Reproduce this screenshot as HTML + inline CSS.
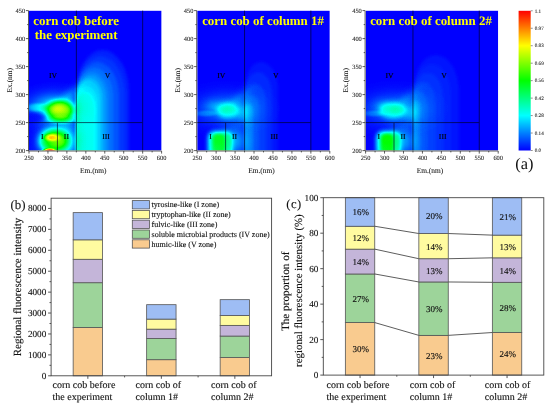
<!DOCTYPE html><html><head><meta charset="utf-8"><style>html,body{margin:0;padding:0;background:#fff;width:550px;height:407px;overflow:hidden}svg{display:block;filter:blur(0.35px)}</style></head><body>
<svg width="550" height="407" viewBox="0 0 550 407" text-rendering="geometricPrecision" font-family='"Liberation Serif", serif'>
<defs>
<radialGradient id="g"><stop offset="0.000" stop-color="#fff" stop-opacity="1.0000"/><stop offset="0.083" stop-color="#fff" stop-opacity="0.9692"/><stop offset="0.167" stop-color="#fff" stop-opacity="0.8825"/><stop offset="0.250" stop-color="#fff" stop-opacity="0.7548"/><stop offset="0.333" stop-color="#fff" stop-opacity="0.6065"/><stop offset="0.417" stop-color="#fff" stop-opacity="0.4578"/><stop offset="0.500" stop-color="#fff" stop-opacity="0.3247"/><stop offset="0.583" stop-color="#fff" stop-opacity="0.2163"/><stop offset="0.667" stop-color="#fff" stop-opacity="0.1353"/><stop offset="0.750" stop-color="#fff" stop-opacity="0.0796"/><stop offset="0.833" stop-color="#fff" stop-opacity="0.0439"/><stop offset="0.917" stop-color="#fff" stop-opacity="0.0228"/><stop offset="1.000" stop-color="#fff" stop-opacity="0.0000"/></radialGradient>
<radialGradient id="f"><stop offset="0.000" stop-color="#fff" stop-opacity="1.0000"/><stop offset="0.071" stop-color="#fff" stop-opacity="0.9998"/><stop offset="0.143" stop-color="#fff" stop-opacity="0.9967"/><stop offset="0.214" stop-color="#fff" stop-opacity="0.9833"/><stop offset="0.286" stop-color="#fff" stop-opacity="0.9481"/><stop offset="0.357" stop-color="#fff" stop-opacity="0.8780"/><stop offset="0.429" stop-color="#fff" stop-opacity="0.7635"/><stop offset="0.500" stop-color="#fff" stop-opacity="0.6065"/><stop offset="0.571" stop-color="#fff" stop-opacity="0.4261"/><stop offset="0.643" stop-color="#fff" stop-opacity="0.2550"/><stop offset="0.714" stop-color="#fff" stop-opacity="0.1246"/><stop offset="0.786" stop-color="#fff" stop-opacity="0.0474"/><stop offset="0.857" stop-color="#fff" stop-opacity="0.0133"/><stop offset="0.929" stop-color="#fff" stop-opacity="0.0026"/><stop offset="1.000" stop-color="#fff" stop-opacity="0.0000"/></radialGradient>
<radialGradient id="gk"><stop offset="0.000" stop-color="#000" stop-opacity="1.0000"/><stop offset="0.083" stop-color="#000" stop-opacity="0.9692"/><stop offset="0.167" stop-color="#000" stop-opacity="0.8825"/><stop offset="0.250" stop-color="#000" stop-opacity="0.7548"/><stop offset="0.333" stop-color="#000" stop-opacity="0.6065"/><stop offset="0.417" stop-color="#000" stop-opacity="0.4578"/><stop offset="0.500" stop-color="#000" stop-opacity="0.3247"/><stop offset="0.583" stop-color="#000" stop-opacity="0.2163"/><stop offset="0.667" stop-color="#000" stop-opacity="0.1353"/><stop offset="0.750" stop-color="#000" stop-opacity="0.0796"/><stop offset="0.833" stop-color="#000" stop-opacity="0.0439"/><stop offset="0.917" stop-color="#000" stop-opacity="0.0228"/><stop offset="1.000" stop-color="#000" stop-opacity="0.0000"/></radialGradient>
<radialGradient id="fk"><stop offset="0.000" stop-color="#000" stop-opacity="1.0000"/><stop offset="0.071" stop-color="#000" stop-opacity="0.9998"/><stop offset="0.143" stop-color="#000" stop-opacity="0.9967"/><stop offset="0.214" stop-color="#000" stop-opacity="0.9833"/><stop offset="0.286" stop-color="#000" stop-opacity="0.9481"/><stop offset="0.357" stop-color="#000" stop-opacity="0.8780"/><stop offset="0.429" stop-color="#000" stop-opacity="0.7635"/><stop offset="0.500" stop-color="#000" stop-opacity="0.6065"/><stop offset="0.571" stop-color="#000" stop-opacity="0.4261"/><stop offset="0.643" stop-color="#000" stop-opacity="0.2550"/><stop offset="0.714" stop-color="#000" stop-opacity="0.1246"/><stop offset="0.786" stop-color="#000" stop-opacity="0.0474"/><stop offset="0.857" stop-color="#000" stop-opacity="0.0133"/><stop offset="0.929" stop-color="#000" stop-opacity="0.0026"/><stop offset="1.000" stop-color="#000" stop-opacity="0.0000"/></radialGradient>
<radialGradient id="e"><stop offset="0" stop-color="#fff" stop-opacity="1"/><stop offset="0.650" stop-color="#fff" stop-opacity="1.0000"/><stop offset="0.694" stop-color="#fff" stop-opacity="0.9570"/><stop offset="0.738" stop-color="#fff" stop-opacity="0.8438"/><stop offset="0.781" stop-color="#fff" stop-opacity="0.6836"/><stop offset="0.825" stop-color="#fff" stop-opacity="0.5000"/><stop offset="0.869" stop-color="#fff" stop-opacity="0.3164"/><stop offset="0.912" stop-color="#fff" stop-opacity="0.1562"/><stop offset="0.956" stop-color="#fff" stop-opacity="0.0430"/><stop offset="1.000" stop-color="#fff" stop-opacity="0.0000"/></radialGradient>
<radialGradient id="ek"><stop offset="0" stop-color="#000" stop-opacity="1"/><stop offset="0.650" stop-color="#000" stop-opacity="1.0000"/><stop offset="0.694" stop-color="#000" stop-opacity="0.9570"/><stop offset="0.738" stop-color="#000" stop-opacity="0.8438"/><stop offset="0.781" stop-color="#000" stop-opacity="0.6836"/><stop offset="0.825" stop-color="#000" stop-opacity="0.5000"/><stop offset="0.869" stop-color="#000" stop-opacity="0.3164"/><stop offset="0.912" stop-color="#000" stop-opacity="0.1562"/><stop offset="0.956" stop-color="#000" stop-opacity="0.0430"/><stop offset="1.000" stop-color="#000" stop-opacity="0.0000"/></radialGradient>
<filter id="b0_5" x="-50%" y="-50%" width="200%" height="200%"><feGaussianBlur stdDeviation="0.5"/></filter>
<filter id="b1" x="-50%" y="-50%" width="200%" height="200%"><feGaussianBlur stdDeviation="1"/></filter>
<filter id="b1_5" x="-50%" y="-50%" width="200%" height="200%"><feGaussianBlur stdDeviation="1.5"/></filter>
<filter id="b2" x="-50%" y="-50%" width="200%" height="200%"><feGaussianBlur stdDeviation="2"/></filter>
<filter id="b2_5" x="-50%" y="-50%" width="200%" height="200%"><feGaussianBlur stdDeviation="2.5"/></filter>
<filter id="b3" x="-50%" y="-50%" width="200%" height="200%"><feGaussianBlur stdDeviation="3"/></filter>
<filter id="b4" x="-50%" y="-50%" width="200%" height="200%"><feGaussianBlur stdDeviation="4"/></filter>
<filter id="b5" x="-50%" y="-50%" width="200%" height="200%"><feGaussianBlur stdDeviation="5"/></filter>
<filter id="b6" x="-50%" y="-50%" width="200%" height="200%"><feGaussianBlur stdDeviation="6"/></filter>
<filter id="cm" x="0" y="0" width="1" height="1" color-interpolation-filters="sRGB"><feComponentTransfer><feFuncR type="table" tableValues="0 0 0 1 1"/><feFuncG type="table" tableValues="0 1 1 1 0"/><feFuncB type="table" tableValues="1 1 0 0 0"/></feComponentTransfer></filter>
<linearGradient id="cb" x1="0" y1="1" x2="0" y2="0"><stop offset="0" stop-color="#00f"/><stop offset="0.25" stop-color="#0ff"/><stop offset="0.5" stop-color="#0f0"/><stop offset="0.75" stop-color="#ff0"/><stop offset="1" stop-color="#f00"/></linearGradient>
<clipPath id="cp0"><rect x="29.00" y="10.60" width="132.60" height="140.00"/></clipPath>
<clipPath id="cp1"><rect x="197.20" y="10.60" width="132.60" height="140.00"/></clipPath>
<clipPath id="cp2"><rect x="365.60" y="10.60" width="132.60" height="140.00"/></clipPath>
</defs>
<g clip-path="url(#cp0)"><g filter="url(#cm)">
<rect x="29.00" y="10.60" width="132.60" height="140.00" fill="#000"/>
<path d="M76.0 160.0 L76.0 92.4 A26.50 42.40 0 0 1 129.0 92.4 L129.0 160.0 Z" fill="#fff" fill-opacity="0.030" filter="url(#b1_5)"/>
<path d="M76.0 160.0 L76.0 95.2 A24.50 39.20 0 0 1 125.0 95.2 L125.0 160.0 Z" fill="#fff" fill-opacity="0.021" filter="url(#b1_5)"/>
<path d="M76.0 160.0 L76.0 96.4 A21.50 34.40 0 0 1 119.0 96.4 L119.0 160.0 Z" fill="#fff" fill-opacity="0.032" filter="url(#b1_5)"/>
<path d="M76.0 160.0 L76.0 97.6 A18.50 29.60 0 0 1 113.0 97.6 L113.0 160.0 Z" fill="#fff" fill-opacity="0.033" filter="url(#b1_5)"/>
<path d="M76.0 160.0 L76.0 98.6 A16.00 25.60 0 0 1 108.0 98.6 L108.0 160.0 Z" fill="#fff" fill-opacity="0.034" filter="url(#b1_5)"/>
<path d="M76.0 160.0 L76.0 99.4 A14.00 22.40 0 0 1 104.0 99.4 L104.0 160.0 Z" fill="#fff" fill-opacity="0.035" filter="url(#b1_5)"/>
<path d="M76.0 160.0 L76.0 100.0 A12.50 20.00 0 0 1 101.0 100.0 L101.0 160.0 Z" fill="#fff" fill-opacity="0.036" filter="url(#b1_5)"/>
<path d="M76.0 160.0 L76.0 103.6 A11.00 17.60 0 0 1 98.0 103.6 L98.0 160.0 Z" fill="#fff" fill-opacity="0.037" filter="url(#b1_5)"/>
<path d="M76.0 160.0 L76.0 107.2 A9.50 15.20 0 0 1 95.0 107.2 L95.0 160.0 Z" fill="#fff" fill-opacity="0.039" filter="url(#b1_5)"/>
<ellipse cx="70.00" cy="95.00" rx="30.00" ry="12.00" fill="url(#g)" fill-opacity="0.080" transform="rotate(-40.0 70.00 95.00)"/>
<ellipse cx="69.00" cy="112.00" rx="15.00" ry="24.00" fill="url(#g)" fill-opacity="0.130"/>
<ellipse cx="54.00" cy="108.00" rx="45.00" ry="27.00" fill="url(#g)" fill-opacity="0.250"/>
<ellipse cx="60.00" cy="110.50" rx="23.00" ry="17.00" fill="url(#f)" fill-opacity="0.500"/>
<ellipse cx="58.00" cy="109.00" rx="15.00" ry="10.50" fill="url(#g)" fill-opacity="0.220"/>
<ellipse cx="61.00" cy="119.50" rx="26.00" ry="7.00" fill="url(#f)" fill-opacity="0.160"/>
<ellipse cx="38.00" cy="107.50" rx="20.00" ry="7.00" fill="url(#f)" fill-opacity="0.120"/>
<ellipse cx="34.00" cy="118.00" rx="18.00" ry="9.00" fill="url(#fk)" fill-opacity="0.850"/>
<ellipse cx="56.00" cy="141.00" rx="39.00" ry="36.00" fill="url(#g)" fill-opacity="0.200"/>
<ellipse cx="64.00" cy="141.00" rx="24.00" ry="30.00" fill="url(#g)" fill-opacity="0.220"/>
<ellipse cx="53.00" cy="140.50" rx="25.00" ry="19.00" fill="url(#f)" fill-opacity="0.420"/>
<ellipse cx="52.00" cy="137.50" rx="13.00" ry="6.40" fill="url(#f)" fill-opacity="0.450"/>
<ellipse cx="50.20" cy="137.50" rx="7.80" ry="4.80" fill="url(#g)" fill-opacity="0.300"/>
<ellipse cx="49.50" cy="151.20" rx="11.00" ry="4.80" fill="url(#f)" fill-opacity="0.920"/>
<ellipse cx="29.00" cy="138.00" rx="24.00" ry="42.00" fill="url(#gk)" fill-opacity="0.600"/>
</g></g>
<g stroke="#000018" stroke-width="0.9" fill="none" opacity="0.7">
<line x1="29.00" y1="122.60" x2="142.66" y2="122.60"/>
<line x1="57.41" y1="122.60" x2="57.41" y2="150.60"/>
<line x1="76.36" y1="10.60" x2="76.36" y2="150.60"/>
<line x1="142.66" y1="10.60" x2="142.66" y2="150.60"/>
</g>
<g font-size="7.7" fill="#000" stroke="#000" stroke-width="0.15" text-anchor="middle">
<text x="53.00" y="77.80">IV</text>
<text x="107.50" y="77.80">V</text>
<text x="42.30" y="138.60">I</text>
<text x="66.40" y="138.60">II</text>
<text x="106.10" y="138.60">III</text>
</g>
<g font-size="12.9" font-weight="bold" fill="#ff0" text-anchor="middle">
<text x="76.10" y="24.70">corn cob before</text>
<text x="76.10" y="38.90">the experiment</text>
</g>
<g stroke="#333" stroke-width="0.8" fill="none">
<line x1="28.50" y1="10.60" x2="28.50" y2="151.00"/>
<line x1="28.50" y1="151.00" x2="161.60" y2="151.00"/>
<line x1="25.90" y1="150.60" x2="28.50" y2="150.60"/>
<line x1="27.10" y1="136.60" x2="28.50" y2="136.60"/>
<line x1="25.90" y1="122.60" x2="28.50" y2="122.60"/>
<line x1="27.10" y1="108.60" x2="28.50" y2="108.60"/>
<line x1="25.90" y1="94.60" x2="28.50" y2="94.60"/>
<line x1="27.10" y1="80.60" x2="28.50" y2="80.60"/>
<line x1="25.90" y1="66.60" x2="28.50" y2="66.60"/>
<line x1="27.10" y1="52.60" x2="28.50" y2="52.60"/>
<line x1="25.90" y1="38.60" x2="28.50" y2="38.60"/>
<line x1="27.10" y1="24.60" x2="28.50" y2="24.60"/>
<line x1="25.90" y1="10.60" x2="28.50" y2="10.60"/>
<line x1="29.00" y1="151.00" x2="29.00" y2="153.60"/>
<line x1="38.47" y1="151.00" x2="38.47" y2="152.40"/>
<line x1="47.94" y1="151.00" x2="47.94" y2="153.60"/>
<line x1="57.41" y1="151.00" x2="57.41" y2="152.40"/>
<line x1="66.89" y1="151.00" x2="66.89" y2="153.60"/>
<line x1="76.36" y1="151.00" x2="76.36" y2="152.40"/>
<line x1="85.83" y1="151.00" x2="85.83" y2="153.60"/>
<line x1="95.30" y1="151.00" x2="95.30" y2="152.40"/>
<line x1="104.77" y1="151.00" x2="104.77" y2="153.60"/>
<line x1="114.24" y1="151.00" x2="114.24" y2="152.40"/>
<line x1="123.71" y1="151.00" x2="123.71" y2="153.60"/>
<line x1="133.19" y1="151.00" x2="133.19" y2="152.40"/>
<line x1="142.66" y1="151.00" x2="142.66" y2="153.60"/>
<line x1="152.13" y1="151.00" x2="152.13" y2="152.40"/>
<line x1="161.60" y1="151.00" x2="161.60" y2="153.60"/>
</g>
<g font-size="6.4" fill="#222" stroke="#222" stroke-width="0.08">
<text x="25.20" y="152.60" text-anchor="end">200</text>
<text x="25.20" y="124.60" text-anchor="end">250</text>
<text x="25.20" y="96.60" text-anchor="end">300</text>
<text x="25.20" y="68.60" text-anchor="end">350</text>
<text x="25.20" y="40.60" text-anchor="end">400</text>
<text x="25.20" y="12.60" text-anchor="end">450</text>
<text x="29.00" y="160.30" text-anchor="middle">250</text>
<text x="47.94" y="160.30" text-anchor="middle">300</text>
<text x="66.89" y="160.30" text-anchor="middle">350</text>
<text x="85.83" y="160.30" text-anchor="middle">400</text>
<text x="104.77" y="160.30" text-anchor="middle">450</text>
<text x="123.71" y="160.30" text-anchor="middle">500</text>
<text x="142.66" y="160.30" text-anchor="middle">550</text>
<text x="161.60" y="160.30" text-anchor="middle">600</text>
</g>
<text x="93.30" y="172.5" font-size="7.4" fill="#111" stroke="#111" stroke-width="0.06" text-anchor="middle">Em.(nm)</text>
<text transform="translate(11.60 80.2) rotate(-90)" font-size="7.4" fill="#111" stroke="#111" stroke-width="0.06" text-anchor="middle">Ex.(nm)</text>
<g clip-path="url(#cp1)"><g filter="url(#cm)">
<rect x="197.20" y="10.60" width="132.60" height="140.00" fill="#000"/>
<path d="M244.5 160.0 L244.5 88.8 A16.75 26.80 0 0 1 278.0 88.8 L278.0 160.0 Z" fill="#fff" fill-opacity="0.020" filter="url(#b1_5)"/>
<path d="M244.5 160.0 L244.5 94.0 A13.75 22.00 0 0 1 272.0 94.0 L272.0 160.0 Z" fill="#fff" fill-opacity="0.020" filter="url(#b1_5)"/>
<path d="M244.5 160.0 L244.5 101.2 A10.75 17.20 0 0 1 266.0 101.2 L266.0 160.0 Z" fill="#fff" fill-opacity="0.021" filter="url(#b1_5)"/>
<path d="M244.5 160.0 L244.5 106.6 A7.25 11.60 0 0 1 259.0 106.6 L259.0 160.0 Z" fill="#fff" fill-opacity="0.021" filter="url(#b1_5)"/>
<path d="M244.5 160.0 L244.5 110.8 A4.25 6.80 0 0 1 253.0 110.8 L253.0 160.0 Z" fill="#fff" fill-opacity="0.033" filter="url(#b1_5)"/>
<ellipse cx="242.00" cy="113.00" rx="15.00" ry="21.00" fill="url(#g)" fill-opacity="0.100"/>
<ellipse cx="226.00" cy="109.00" rx="57.00" ry="30.00" fill="url(#g)" fill-opacity="0.130"/>
<ellipse cx="238.00" cy="99.00" rx="30.00" ry="12.00" fill="url(#g)" fill-opacity="0.050" transform="rotate(-40.0 238.00 99.00)"/>
<ellipse cx="227.50" cy="110.50" rx="11.00" ry="8.00" fill="#fff" fill-opacity="0.150" filter="url(#b2_5)"/>
<ellipse cx="227.00" cy="110.00" rx="15.00" ry="10.50" fill="url(#g)" fill-opacity="0.060"/>
<ellipse cx="206.00" cy="113.50" rx="18.00" ry="5.00" fill="url(#f)" fill-opacity="0.060"/>
<ellipse cx="214.00" cy="106.00" rx="18.00" ry="12.00" fill="url(#g)" fill-opacity="0.060"/>
<rect x="208.00" y="131.50" width="24.00" height="25.00" rx="6.00" fill="#fff" fill-opacity="0.280" filter="url(#b2)"/>
<rect x="212.50" y="133.50" width="12.50" height="20.00" rx="5.00" fill="#fff" fill-opacity="0.200" filter="url(#b1_5)"/>
<ellipse cx="216.00" cy="140.00" rx="12.00" ry="15.00" fill="url(#g)" fill-opacity="0.060"/>
<ellipse cx="234.00" cy="141.00" rx="27.00" ry="30.00" fill="url(#g)" fill-opacity="0.160"/>
</g></g>
<g stroke="#000018" stroke-width="0.9" fill="none" opacity="0.7">
<line x1="197.20" y1="122.60" x2="310.86" y2="122.60"/>
<line x1="225.61" y1="122.60" x2="225.61" y2="150.60"/>
<line x1="244.56" y1="10.60" x2="244.56" y2="150.60"/>
<line x1="310.86" y1="10.60" x2="310.86" y2="150.60"/>
</g>
<g font-size="7.7" fill="#000" stroke="#000" stroke-width="0.15" text-anchor="middle">
<text x="221.20" y="77.80">IV</text>
<text x="275.70" y="77.80">V</text>
<text x="210.50" y="138.60">I</text>
<text x="234.60" y="138.60">II</text>
<text x="274.30" y="138.60">III</text>
</g>
<g font-size="12.9" font-weight="bold" fill="#ff0" text-anchor="middle">
<text x="263.00" y="24.70">corn cob of column 1#</text>
</g>
<g stroke="#333" stroke-width="0.8" fill="none">
<line x1="196.70" y1="10.60" x2="196.70" y2="151.00"/>
<line x1="196.70" y1="151.00" x2="329.80" y2="151.00"/>
<line x1="194.10" y1="150.60" x2="196.70" y2="150.60"/>
<line x1="195.30" y1="136.60" x2="196.70" y2="136.60"/>
<line x1="194.10" y1="122.60" x2="196.70" y2="122.60"/>
<line x1="195.30" y1="108.60" x2="196.70" y2="108.60"/>
<line x1="194.10" y1="94.60" x2="196.70" y2="94.60"/>
<line x1="195.30" y1="80.60" x2="196.70" y2="80.60"/>
<line x1="194.10" y1="66.60" x2="196.70" y2="66.60"/>
<line x1="195.30" y1="52.60" x2="196.70" y2="52.60"/>
<line x1="194.10" y1="38.60" x2="196.70" y2="38.60"/>
<line x1="195.30" y1="24.60" x2="196.70" y2="24.60"/>
<line x1="194.10" y1="10.60" x2="196.70" y2="10.60"/>
<line x1="197.20" y1="151.00" x2="197.20" y2="153.60"/>
<line x1="206.67" y1="151.00" x2="206.67" y2="152.40"/>
<line x1="216.14" y1="151.00" x2="216.14" y2="153.60"/>
<line x1="225.61" y1="151.00" x2="225.61" y2="152.40"/>
<line x1="235.09" y1="151.00" x2="235.09" y2="153.60"/>
<line x1="244.56" y1="151.00" x2="244.56" y2="152.40"/>
<line x1="254.03" y1="151.00" x2="254.03" y2="153.60"/>
<line x1="263.50" y1="151.00" x2="263.50" y2="152.40"/>
<line x1="272.97" y1="151.00" x2="272.97" y2="153.60"/>
<line x1="282.44" y1="151.00" x2="282.44" y2="152.40"/>
<line x1="291.91" y1="151.00" x2="291.91" y2="153.60"/>
<line x1="301.39" y1="151.00" x2="301.39" y2="152.40"/>
<line x1="310.86" y1="151.00" x2="310.86" y2="153.60"/>
<line x1="320.33" y1="151.00" x2="320.33" y2="152.40"/>
<line x1="329.80" y1="151.00" x2="329.80" y2="153.60"/>
</g>
<g font-size="6.4" fill="#222" stroke="#222" stroke-width="0.08">
<text x="193.40" y="152.60" text-anchor="end">200</text>
<text x="193.40" y="124.60" text-anchor="end">250</text>
<text x="193.40" y="96.60" text-anchor="end">300</text>
<text x="193.40" y="68.60" text-anchor="end">350</text>
<text x="193.40" y="40.60" text-anchor="end">400</text>
<text x="193.40" y="12.60" text-anchor="end">450</text>
<text x="197.20" y="160.30" text-anchor="middle">250</text>
<text x="216.14" y="160.30" text-anchor="middle">300</text>
<text x="235.09" y="160.30" text-anchor="middle">350</text>
<text x="254.03" y="160.30" text-anchor="middle">400</text>
<text x="272.97" y="160.30" text-anchor="middle">450</text>
<text x="291.91" y="160.30" text-anchor="middle">500</text>
<text x="310.86" y="160.30" text-anchor="middle">550</text>
<text x="329.80" y="160.30" text-anchor="middle">600</text>
</g>
<text x="261.50" y="172.5" font-size="7.4" fill="#111" stroke="#111" stroke-width="0.06" text-anchor="middle">Em.(nm)</text>
<text transform="translate(179.80 80.2) rotate(-90)" font-size="7.4" fill="#111" stroke="#111" stroke-width="0.06" text-anchor="middle">Ex.(nm)</text>
<g clip-path="url(#cp2)"><g filter="url(#cm)">
<rect x="365.60" y="10.60" width="132.60" height="140.00" fill="#000"/>
<path d="M412.9 160.0 L412.9 91.9 A23.05 36.88 0 0 1 459.0 91.9 L459.0 160.0 Z" fill="#fff" fill-opacity="0.020" filter="url(#b1_5)"/>
<path d="M412.9 160.0 L412.9 94.5 A19.05 30.48 0 0 1 451.0 94.5 L451.0 160.0 Z" fill="#fff" fill-opacity="0.010" filter="url(#b1_5)"/>
<path d="M412.9 160.0 L412.9 97.1 A15.05 24.08 0 0 1 443.0 97.1 L443.0 160.0 Z" fill="#fff" fill-opacity="0.015" filter="url(#b1_5)"/>
<path d="M412.9 160.0 L412.9 99.7 A11.05 17.68 0 0 1 435.0 99.7 L435.0 160.0 Z" fill="#fff" fill-opacity="0.016" filter="url(#b1_5)"/>
<path d="M412.9 160.0 L412.9 103.3 A7.05 11.28 0 0 1 427.0 103.3 L427.0 160.0 Z" fill="#fff" fill-opacity="0.016" filter="url(#b1_5)"/>
<path d="M412.9 160.0 L412.9 105.7 A3.55 5.68 0 0 1 420.0 105.7 L420.0 160.0 Z" fill="#fff" fill-opacity="0.022" filter="url(#b1_5)"/>
<ellipse cx="410.40" cy="113.00" rx="15.00" ry="21.00" fill="url(#g)" fill-opacity="0.100"/>
<ellipse cx="394.40" cy="109.00" rx="57.00" ry="30.00" fill="url(#g)" fill-opacity="0.130"/>
<ellipse cx="406.40" cy="99.00" rx="30.00" ry="12.00" fill="url(#g)" fill-opacity="0.050" transform="rotate(-40.0 406.40 99.00)"/>
<ellipse cx="392.70" cy="110.50" rx="13.50" ry="8.00" fill="#fff" fill-opacity="0.160" filter="url(#b2_5)"/>
<ellipse cx="395.40" cy="110.00" rx="15.00" ry="10.50" fill="url(#g)" fill-opacity="0.060"/>
<ellipse cx="374.40" cy="113.50" rx="18.00" ry="5.00" fill="url(#f)" fill-opacity="0.060"/>
<ellipse cx="382.40" cy="106.00" rx="18.00" ry="12.00" fill="url(#g)" fill-opacity="0.060"/>
<rect x="376.40" y="131.50" width="24.00" height="25.00" rx="6.00" fill="#fff" fill-opacity="0.280" filter="url(#b2)"/>
<rect x="380.90" y="133.50" width="12.50" height="20.00" rx="5.00" fill="#fff" fill-opacity="0.250" filter="url(#b1_5)"/>
<ellipse cx="384.40" cy="140.00" rx="12.00" ry="15.00" fill="url(#g)" fill-opacity="0.060"/>
<ellipse cx="402.40" cy="141.00" rx="27.00" ry="30.00" fill="url(#g)" fill-opacity="0.160"/>
</g></g>
<g stroke="#000018" stroke-width="0.9" fill="none" opacity="0.7">
<line x1="365.60" y1="122.60" x2="479.26" y2="122.60"/>
<line x1="394.01" y1="122.60" x2="394.01" y2="150.60"/>
<line x1="412.96" y1="10.60" x2="412.96" y2="150.60"/>
<line x1="479.26" y1="10.60" x2="479.26" y2="150.60"/>
</g>
<g font-size="7.7" fill="#000" stroke="#000" stroke-width="0.15" text-anchor="middle">
<text x="389.60" y="77.80">IV</text>
<text x="444.10" y="77.80">V</text>
<text x="378.90" y="138.60">I</text>
<text x="403.00" y="138.60">II</text>
<text x="442.70" y="138.60">III</text>
</g>
<g font-size="12.9" font-weight="bold" fill="#ff0" text-anchor="middle">
<text x="431.00" y="24.70">corn cob of column 2#</text>
</g>
<g stroke="#333" stroke-width="0.8" fill="none">
<line x1="365.10" y1="10.60" x2="365.10" y2="151.00"/>
<line x1="365.10" y1="151.00" x2="498.20" y2="151.00"/>
<line x1="362.50" y1="150.60" x2="365.10" y2="150.60"/>
<line x1="363.70" y1="136.60" x2="365.10" y2="136.60"/>
<line x1="362.50" y1="122.60" x2="365.10" y2="122.60"/>
<line x1="363.70" y1="108.60" x2="365.10" y2="108.60"/>
<line x1="362.50" y1="94.60" x2="365.10" y2="94.60"/>
<line x1="363.70" y1="80.60" x2="365.10" y2="80.60"/>
<line x1="362.50" y1="66.60" x2="365.10" y2="66.60"/>
<line x1="363.70" y1="52.60" x2="365.10" y2="52.60"/>
<line x1="362.50" y1="38.60" x2="365.10" y2="38.60"/>
<line x1="363.70" y1="24.60" x2="365.10" y2="24.60"/>
<line x1="362.50" y1="10.60" x2="365.10" y2="10.60"/>
<line x1="365.60" y1="151.00" x2="365.60" y2="153.60"/>
<line x1="375.07" y1="151.00" x2="375.07" y2="152.40"/>
<line x1="384.54" y1="151.00" x2="384.54" y2="153.60"/>
<line x1="394.01" y1="151.00" x2="394.01" y2="152.40"/>
<line x1="403.49" y1="151.00" x2="403.49" y2="153.60"/>
<line x1="412.96" y1="151.00" x2="412.96" y2="152.40"/>
<line x1="422.43" y1="151.00" x2="422.43" y2="153.60"/>
<line x1="431.90" y1="151.00" x2="431.90" y2="152.40"/>
<line x1="441.37" y1="151.00" x2="441.37" y2="153.60"/>
<line x1="450.84" y1="151.00" x2="450.84" y2="152.40"/>
<line x1="460.31" y1="151.00" x2="460.31" y2="153.60"/>
<line x1="469.79" y1="151.00" x2="469.79" y2="152.40"/>
<line x1="479.26" y1="151.00" x2="479.26" y2="153.60"/>
<line x1="488.73" y1="151.00" x2="488.73" y2="152.40"/>
<line x1="498.20" y1="151.00" x2="498.20" y2="153.60"/>
</g>
<g font-size="6.4" fill="#222" stroke="#222" stroke-width="0.08">
<text x="361.80" y="152.60" text-anchor="end">200</text>
<text x="361.80" y="124.60" text-anchor="end">250</text>
<text x="361.80" y="96.60" text-anchor="end">300</text>
<text x="361.80" y="68.60" text-anchor="end">350</text>
<text x="361.80" y="40.60" text-anchor="end">400</text>
<text x="361.80" y="12.60" text-anchor="end">450</text>
<text x="365.60" y="160.30" text-anchor="middle">250</text>
<text x="384.54" y="160.30" text-anchor="middle">300</text>
<text x="403.49" y="160.30" text-anchor="middle">350</text>
<text x="422.43" y="160.30" text-anchor="middle">400</text>
<text x="441.37" y="160.30" text-anchor="middle">450</text>
<text x="460.31" y="160.30" text-anchor="middle">500</text>
<text x="479.26" y="160.30" text-anchor="middle">550</text>
<text x="498.20" y="160.30" text-anchor="middle">600</text>
</g>
<text x="429.90" y="172.5" font-size="7.4" fill="#111" stroke="#111" stroke-width="0.06" text-anchor="middle">Em.(nm)</text>
<text transform="translate(348.20 80.2) rotate(-90)" font-size="7.4" fill="#111" stroke="#111" stroke-width="0.06" text-anchor="middle">Ex.(nm)</text>
<rect x="518.60" y="10.80" width="12.10" height="139.70" fill="url(#cb)"/>
<g stroke="#444" stroke-width="0.6">
<line x1="530.70" y1="10.80" x2="532.70" y2="10.80"/>
<line x1="530.70" y1="28.26" x2="532.70" y2="28.26"/>
<line x1="530.70" y1="45.72" x2="532.70" y2="45.72"/>
<line x1="530.70" y1="63.19" x2="532.70" y2="63.19"/>
<line x1="530.70" y1="80.65" x2="532.70" y2="80.65"/>
<line x1="530.70" y1="98.11" x2="532.70" y2="98.11"/>
<line x1="530.70" y1="115.57" x2="532.70" y2="115.57"/>
<line x1="530.70" y1="133.04" x2="532.70" y2="133.04"/>
<line x1="530.70" y1="150.50" x2="532.70" y2="150.50"/>
</g><g font-size="5.1" fill="#222" stroke="#222" stroke-width="0.08">
<text x="534.8" y="12.50">1.1</text>
<text x="534.8" y="29.96">0.97</text>
<text x="534.8" y="47.42">0.83</text>
<text x="534.8" y="64.89">0.69</text>
<text x="534.8" y="82.35">0.56</text>
<text x="534.8" y="99.81">0.42</text>
<text x="534.8" y="117.27">0.28</text>
<text x="534.8" y="134.74">0.14</text>
<text x="534.8" y="152.20">0.0</text>
</g>
<text x="515.3" y="168.8" font-size="16.4" fill="#111">(a)</text>
<rect x="73.15" y="327.48" width="29.40" height="48.32" fill="#F9CB8F" stroke="#555" stroke-width="0.8"/>
<rect x="73.15" y="282.71" width="29.40" height="44.77" fill="#9DD49A" stroke="#555" stroke-width="0.8"/>
<rect x="73.15" y="259.28" width="29.40" height="23.43" fill="#C4B5D9" stroke="#555" stroke-width="0.8"/>
<rect x="73.15" y="239.83" width="29.40" height="19.45" fill="#FFFBA0" stroke="#555" stroke-width="0.8"/>
<rect x="73.15" y="212.63" width="29.40" height="27.19" fill="#9EBDF4" stroke="#555" stroke-width="0.8"/>
<rect x="146.65" y="359.69" width="29.40" height="16.11" fill="#F9CB8F" stroke="#555" stroke-width="0.8"/>
<rect x="146.65" y="338.56" width="29.40" height="21.13" fill="#9DD49A" stroke="#555" stroke-width="0.8"/>
<rect x="146.65" y="329.15" width="29.40" height="9.41" fill="#C4B5D9" stroke="#555" stroke-width="0.8"/>
<rect x="146.65" y="319.11" width="29.40" height="10.04" fill="#FFFBA0" stroke="#555" stroke-width="0.8"/>
<rect x="146.65" y="304.68" width="29.40" height="14.43" fill="#9EBDF4" stroke="#555" stroke-width="0.8"/>
<rect x="220.15" y="357.60" width="29.40" height="18.20" fill="#F9CB8F" stroke="#555" stroke-width="0.8"/>
<rect x="220.15" y="336.05" width="29.40" height="21.55" fill="#9DD49A" stroke="#555" stroke-width="0.8"/>
<rect x="220.15" y="325.39" width="29.40" height="10.67" fill="#C4B5D9" stroke="#555" stroke-width="0.8"/>
<rect x="220.15" y="315.55" width="29.40" height="9.83" fill="#FFFBA0" stroke="#555" stroke-width="0.8"/>
<rect x="220.15" y="299.66" width="29.40" height="15.90" fill="#9EBDF4" stroke="#555" stroke-width="0.8"/>
<rect x="51.10" y="198.20" width="220.50" height="177.60" fill="none" stroke="#444" stroke-width="0.9"/>
<g stroke="#444" stroke-width="0.9">
<line x1="48.10" y1="375.80" x2="51.10" y2="375.80"/>
<line x1="49.50" y1="365.34" x2="51.10" y2="365.34"/>
<line x1="48.10" y1="354.88" x2="51.10" y2="354.88"/>
<line x1="49.50" y1="344.42" x2="51.10" y2="344.42"/>
<line x1="48.10" y1="333.96" x2="51.10" y2="333.96"/>
<line x1="49.50" y1="323.50" x2="51.10" y2="323.50"/>
<line x1="48.10" y1="313.04" x2="51.10" y2="313.04"/>
<line x1="49.50" y1="302.58" x2="51.10" y2="302.58"/>
<line x1="48.10" y1="292.13" x2="51.10" y2="292.13"/>
<line x1="49.50" y1="281.67" x2="51.10" y2="281.67"/>
<line x1="48.10" y1="271.21" x2="51.10" y2="271.21"/>
<line x1="49.50" y1="260.75" x2="51.10" y2="260.75"/>
<line x1="48.10" y1="250.29" x2="51.10" y2="250.29"/>
<line x1="49.50" y1="239.83" x2="51.10" y2="239.83"/>
<line x1="48.10" y1="229.37" x2="51.10" y2="229.37"/>
<line x1="49.50" y1="218.91" x2="51.10" y2="218.91"/>
<line x1="48.10" y1="208.45" x2="51.10" y2="208.45"/>
<line x1="87.85" y1="375.80" x2="87.85" y2="378.80"/>
<line x1="161.35" y1="375.80" x2="161.35" y2="378.80"/>
<line x1="234.85" y1="375.80" x2="234.85" y2="378.80"/>
<line x1="124.60" y1="375.80" x2="124.60" y2="377.40"/>
<line x1="198.10" y1="375.80" x2="198.10" y2="377.40"/>
</g><g font-size="9.2" fill="#111" stroke="#111" stroke-width="0.12" text-anchor="end">
<text x="46.3" y="378.80">0</text>
<text x="46.3" y="357.88">1000</text>
<text x="46.3" y="336.96">2000</text>
<text x="46.3" y="316.04">3000</text>
<text x="46.3" y="295.13">4000</text>
<text x="46.3" y="274.21">5000</text>
<text x="46.3" y="253.29">6000</text>
<text x="46.3" y="232.37">7000</text>
<text x="46.3" y="211.45">8000</text>
</g>
<g font-size="10" fill="#111" stroke="#111" stroke-width="0.12">
<text x="52.6" y="387.6">corn cob before</text><text x="52.6" y="400.1">the experiment</text>
<text x="135.6" y="387.6">corn cob of</text><text x="135.6" y="400.1">column 1#</text>
<text x="211.1" y="387.6">corn cob of</text><text x="211.1" y="400.1">column 2#</text>
</g>
<text transform="translate(21.2 287) rotate(-90)" font-size="11" fill="#111" stroke="#111" stroke-width="0.12" text-anchor="middle">Regional fluorescence intensity</text>
<text x="10.4" y="208.8" font-size="12.9" fill="#111" stroke="#111" stroke-width="0.1">(b)</text>
<g font-size="8" fill="#111" stroke="#111" stroke-width="0.12">
<rect x="132.3" y="200.60" width="17.2" height="8.3" fill="#9EBDF4" stroke="#555" stroke-width="0.8"/>
<text x="151.6" y="207.40">tyrosine-like (I zone)</text>
<rect x="132.3" y="210.40" width="17.2" height="8.3" fill="#FFFBA0" stroke="#555" stroke-width="0.8"/>
<text x="151.6" y="217.20">tryptophan-like (II zone)</text>
<rect x="132.3" y="220.20" width="17.2" height="8.3" fill="#C4B5D9" stroke="#555" stroke-width="0.8"/>
<text x="151.6" y="227.00">fulvic-like (III zone)</text>
<rect x="132.3" y="230.00" width="17.2" height="8.3" fill="#9DD49A" stroke="#555" stroke-width="0.8"/>
<text x="151.6" y="236.80">soluble microbial products (IV zone)</text>
<rect x="132.3" y="239.80" width="17.2" height="8.3" fill="#F9CB8F" stroke="#555" stroke-width="0.8"/>
<text x="151.6" y="246.60">humic-like (V zone)</text>
</g>
<g stroke="#333" stroke-width="0.8">
<line x1="374.75" y1="322.59" x2="418.85" y2="335.36"/>
<line x1="374.75" y1="273.98" x2="418.85" y2="281.97"/>
<line x1="374.75" y1="249.15" x2="418.85" y2="258.73"/>
<line x1="374.75" y1="226.26" x2="418.85" y2="233.53"/>
<line x1="448.25" y1="335.36" x2="492.35" y2="332.52"/>
<line x1="448.25" y1="281.97" x2="492.35" y2="282.32"/>
<line x1="448.25" y1="258.73" x2="492.35" y2="257.84"/>
<line x1="448.25" y1="233.53" x2="492.35" y2="235.13"/>
</g>
<rect x="345.35" y="322.59" width="29.40" height="52.51" fill="#F9CB8F" stroke="#555" stroke-width="0.8"/>
<rect x="345.35" y="273.98" width="29.40" height="48.61" fill="#9DD49A" stroke="#555" stroke-width="0.8"/>
<rect x="345.35" y="249.15" width="29.40" height="24.84" fill="#C4B5D9" stroke="#555" stroke-width="0.8"/>
<rect x="345.35" y="226.26" width="29.40" height="22.88" fill="#FFFBA0" stroke="#555" stroke-width="0.8"/>
<rect x="345.35" y="197.70" width="29.40" height="28.56" fill="#9EBDF4" stroke="#555" stroke-width="0.8"/>
<rect x="418.85" y="335.36" width="29.40" height="39.74" fill="#F9CB8F" stroke="#555" stroke-width="0.8"/>
<rect x="418.85" y="281.97" width="29.40" height="53.40" fill="#9DD49A" stroke="#555" stroke-width="0.8"/>
<rect x="418.85" y="258.73" width="29.40" height="23.24" fill="#C4B5D9" stroke="#555" stroke-width="0.8"/>
<rect x="418.85" y="233.53" width="29.40" height="25.19" fill="#FFFBA0" stroke="#555" stroke-width="0.8"/>
<rect x="418.85" y="197.70" width="29.40" height="35.83" fill="#9EBDF4" stroke="#555" stroke-width="0.8"/>
<rect x="492.35" y="332.52" width="29.40" height="42.58" fill="#F9CB8F" stroke="#555" stroke-width="0.8"/>
<rect x="492.35" y="282.32" width="29.40" height="50.20" fill="#9DD49A" stroke="#555" stroke-width="0.8"/>
<rect x="492.35" y="257.84" width="29.40" height="24.48" fill="#C4B5D9" stroke="#555" stroke-width="0.8"/>
<rect x="492.35" y="235.13" width="29.40" height="22.71" fill="#FFFBA0" stroke="#555" stroke-width="0.8"/>
<rect x="492.35" y="197.70" width="29.40" height="37.43" fill="#9EBDF4" stroke="#555" stroke-width="0.8"/>
<rect x="323.30" y="197.70" width="220.50" height="177.40" fill="none" stroke="#444" stroke-width="0.9"/>
<g stroke="#444" stroke-width="0.9">
<line x1="320.30" y1="375.10" x2="323.30" y2="375.10"/>
<line x1="321.70" y1="357.36" x2="323.30" y2="357.36"/>
<line x1="320.30" y1="339.62" x2="323.30" y2="339.62"/>
<line x1="321.70" y1="321.88" x2="323.30" y2="321.88"/>
<line x1="320.30" y1="304.14" x2="323.30" y2="304.14"/>
<line x1="321.70" y1="286.40" x2="323.30" y2="286.40"/>
<line x1="320.30" y1="268.66" x2="323.30" y2="268.66"/>
<line x1="321.70" y1="250.92" x2="323.30" y2="250.92"/>
<line x1="320.30" y1="233.18" x2="323.30" y2="233.18"/>
<line x1="321.70" y1="215.44" x2="323.30" y2="215.44"/>
<line x1="320.30" y1="197.70" x2="323.30" y2="197.70"/>
<line x1="360.05" y1="375.10" x2="360.05" y2="378.10"/>
<line x1="433.55" y1="375.10" x2="433.55" y2="378.10"/>
<line x1="507.05" y1="375.10" x2="507.05" y2="378.10"/>
<line x1="396.80" y1="375.10" x2="396.80" y2="376.70"/>
<line x1="470.30" y1="375.10" x2="470.30" y2="376.70"/>
</g><g font-size="9.2" fill="#111" stroke="#111" stroke-width="0.12" text-anchor="end">
<text x="318.4" y="378.10">0</text>
<text x="318.4" y="342.62">20</text>
<text x="318.4" y="307.14">40</text>
<text x="318.4" y="271.66">60</text>
<text x="318.4" y="236.18">80</text>
<text x="318.4" y="200.70">100</text>
</g>
<g font-size="9" fill="#111" stroke="#111" stroke-width="0.12" text-anchor="middle">
<text x="360.65" y="352.34">30%</text>
<text x="360.65" y="301.79">27%</text>
<text x="360.65" y="265.06">14%</text>
<text x="360.65" y="241.20">12%</text>
<text x="360.65" y="215.48">16%</text>
<text x="434.15" y="358.73">23%</text>
<text x="434.15" y="312.16">30%</text>
<text x="434.15" y="273.85">13%</text>
<text x="434.15" y="249.63">14%</text>
<text x="434.15" y="219.12">20%</text>
<text x="507.65" y="357.31">24%</text>
<text x="507.65" y="310.92">28%</text>
<text x="507.65" y="273.58">14%</text>
<text x="507.65" y="249.99">13%</text>
<text x="507.65" y="219.92">21%</text>
</g>
<g font-size="10" fill="#111" stroke="#111" stroke-width="0.12">
<text x="326.6" y="387.6">corn cob before</text><text x="326.6" y="400.1">the experiment</text>
<text x="409.8" y="387.6">corn cob of</text><text x="409.8" y="400.1">column 1#</text>
<text x="484.8" y="387.6">corn cob of</text><text x="484.8" y="400.1">column 2#</text>
</g>
<text transform="translate(288.8 291.3) rotate(-90)" font-size="11.2" fill="#111" stroke="#111" stroke-width="0.12" text-anchor="middle">The proportion of</text>
<text transform="translate(301.8 290.6) rotate(-90)" font-size="10.9" fill="#111" stroke="#111" stroke-width="0.12" text-anchor="middle">regional fluorescence intensity (%)</text>
<text x="286.3" y="208.2" font-size="12.6" letter-spacing="0.45" fill="#111" stroke="#111" stroke-width="0.1">(c)</text>
</svg></body></html>
